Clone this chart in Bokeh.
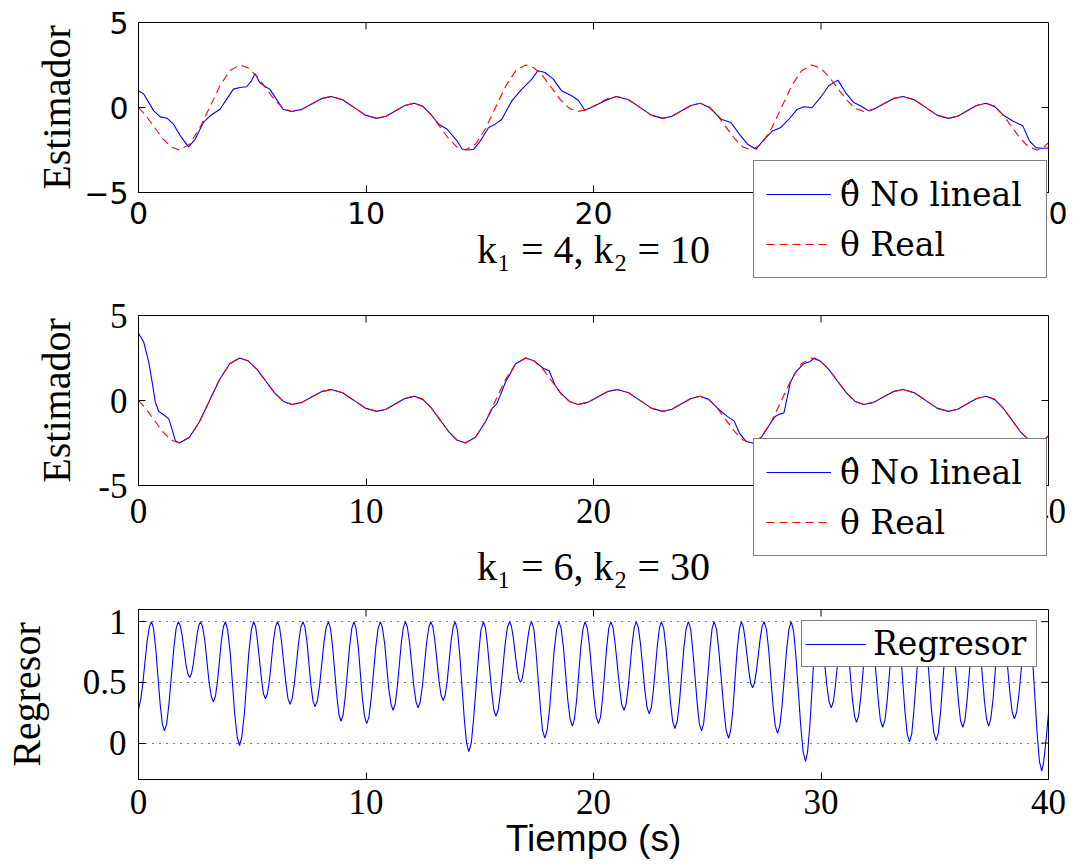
from bokeh.plotting import figure
from bokeh.models import Range1d, FixedTicker, Legend, LegendItem
from bokeh.layouts import column
from bokeh.embed import file_html
from bokeh.resources import INLINE

# ---------------- data ----------------
X_TICKS = [0, 10, 20, 30, 40]
X_TICK_LABELS = ["0", "10", "20", "30", "40"]
EST_TICKS = [-5, 0, 5]
EST_TICK_LABELS_1 = ["\u22125", "0", "5"]
EST_TICK_LABELS_2 = ["-5", "0", "5"]
REG_TICKS = [0, 0.5, 1]
REG_TICK_LABELS = ["0", "0.5", "1"]

LABEL_HAT = "\u03b8\u0302 No lineal"
LABEL_REAL = "\u03b8 Real"
LABEL_REG = "Regresor"
XLABEL_1 = "k\u2081 = 4, k\u2082 = 10"
XLABEL_2 = "k\u2081 = 6, k\u2082 = 30"
XLABEL_3 = "Tiempo (s)"
YLABEL_EST = "Estimador"
YLABEL_REG = "Regresor"

# real theta (same in both estimator panels)
T_REAL = [0, 0.30, 0.675, 1.05, 1.425, 1.80,
          2.24, 2.68, 3.125, 3.57, 4.01, 4.45,
          4.83, 5.22, 5.60, 5.98, 6.37, 6.75,
          7.18, 7.61, 8.04, 8.47,
          8.97, 9.47, 9.97, 10.47,
          10.88, 11.30, 11.71, 12.12,
          12.495, 12.87, 13.245, 13.62, 13.99, 14.37,
          14.81, 15.25, 15.69, 16.14, 16.58, 17.02,
          17.40, 17.79, 18.17, 18.55, 18.94, 19.32,
          19.75, 20.18, 20.61, 21.04,
          21.54, 22.04, 22.54, 23.04,
          23.45, 23.87, 24.28, 24.69,
          25.06, 25.44, 25.81, 26.19, 26.56, 26.93,
          27.38, 27.82, 28.26, 28.70, 29.14, 29.58,
          29.97, 30.35, 30.73, 31.12, 31.50, 31.88,
          32.31, 32.74, 33.17, 33.60,
          34.10, 34.60, 35.10, 35.60,
          36.01, 36.43, 36.84, 37.25,
          37.63, 38.00, 38.38, 38.75, 39.13, 39.50,
          39.75, 40.0]
V_REAL = [0.0, -0.44, -1.125, -1.81, -2.32, -2.5,
          -2.165, -1.25, 0.0, 1.25, 2.165, 2.5,
          2.32, 1.815, 1.13, 0.445, -0.056, -0.24,
          -0.11, 0.205, 0.52, 0.65,
          0.46, 0.005, -0.45, -0.64,
          -0.51, -0.195, 0.12, 0.25,
          0.066, -0.44, -1.125, -1.81, -2.32, -2.5,
          -2.165, -1.25, 0.0, 1.25, 2.165, 2.5,
          2.32, 1.815, 1.13, 0.445, -0.056, -0.24,
          -0.11, 0.205, 0.52, 0.65,
          0.46, 0.005, -0.45, -0.64,
          -0.51, -0.195, 0.12, 0.25,
          0.066, -0.44, -1.125, -1.81, -2.32, -2.5,
          -2.165, -1.25, 0.0, 1.25, 2.165, 2.5,
          2.32, 1.815, 1.13, 0.445, -0.056, -0.24,
          -0.11, 0.205, 0.52, 0.65,
          0.46, 0.005, -0.45, -0.64,
          -0.51, -0.195, 0.12, 0.25,
          0.066, -0.44, -1.125, -1.81, -2.32, -2.5,
          -2.39, -2.07]

# estimate, k1 = 4, k2 = 10
T_K4 = [0, 0.23, 0.45, 0.67, 0.96, 1.25, 1.54, 1.84, 2.2, 2.49,
        2.85, 3.15, 3.58, 3.88, 4.17, 4.46, 4.75, 4.97, 5.12, 5.33,
        5.55, 5.77, 6.06, 6.35, 6.72, 7.18, 7.61, 8.04, 8.47, 8.97,
        9.47, 9.97, 10.47, 10.88, 11.30, 11.71, 12.12, 12.50, 12.87, 13.2,
        13.57, 14.0, 14.23, 14.5, 14.73, 15.03, 15.39, 15.68, 15.97, 16.41,
        16.85, 17.29, 17.55, 17.87, 18.23, 18.6, 19.04, 19.33, 19.62, 20.06,
        20.35, 20.61, 21.01, 21.54, 22.04, 22.54, 23.04, 23.45, 23.87, 24.28,
        24.69, 25.1, 25.61, 26.04, 26.41, 26.77, 27.14, 27.5, 27.87, 28.23,
        28.59, 28.96, 29.25, 29.61, 29.98, 30.34, 30.74, 31.08, 31.44, 31.81,
        32.10, 32.40, 32.74, 33.17, 33.60, 34.10, 34.60, 35.10, 35.60, 36.01,
        36.43, 36.84, 37.25, 37.63, 38.0, 38.43, 38.87, 39.16, 39.45, 39.7,
        40.0]
V_K4 = [0.98, 0.79, 0.3, -0.2, -0.55, -0.63, -0.98, -1.67, -2.32, -1.87,
        -0.88, -0.49, -0.1, 0.49, 1.08, 1.18, 1.22, 1.57, 2.0, 1.47,
        1.25, 1.08, 0.49, -0.1, -0.24, -0.11, 0.205, 0.52, 0.65, 0.46,
        0.005, -0.45, -0.64, -0.51, -0.195, 0.12, 0.25, 0.07, -0.44, -0.98,
        -1.28, -1.96, -2.46, -2.5, -2.46, -1.96, -1.18, -0.98, -0.69, 0.39,
        1.08, 1.67, 2.16, 2.06, 1.67, 0.98, 0.69, 0.43, -0.16, 0.1,
        0.29, 0.45, 0.65, 0.46, 0.005, -0.45, -0.64, -0.51, -0.195, 0.12,
        0.25, 0.0, -0.69, -0.88, -1.57, -2.16, -2.46, -1.87, -1.38, -1.18,
        -0.69, -0.1, 0.04, 0.0, 0.59, 1.28, 1.61, 0.88, 0.29, 0.04,
        -0.2, -0.05, 0.205, 0.52, 0.65, 0.46, 0.005, -0.45, -0.64, -0.51,
        -0.195, 0.12, 0.25, 0.066, -0.44, -0.79, -1.08, -1.96, -2.36, -2.4,
        -2.38]

# estimate, k1 = 6, k2 = 30
T_K6 = [0, 0.23, 0.45, 0.6, 0.74, 0.89, 1.11, 1.33, 1.47, 1.62,
        1.80, 2.24, 2.68, 3.125, 3.57, 4.01, 4.45, 4.83, 5.22, 5.60,
        5.98, 6.37, 6.75, 7.18, 7.61, 8.04, 8.47, 8.97, 9.47, 9.97,
        10.47, 10.88, 11.30, 11.71, 12.12, 12.495, 12.87, 13.245, 13.62, 13.99,
        14.37, 14.81, 15.25, 15.55, 15.75, 16.14, 16.58, 17.02, 17.40, 17.79,
        18.05, 18.31, 18.55, 18.94, 19.32, 19.75, 20.18, 20.61, 21.04, 21.54,
        22.04, 22.54, 23.04, 23.45, 23.87, 24.28, 24.69, 25.06, 25.44, 25.89,
        26.18, 26.41, 26.7, 26.99, 27.38, 27.82, 28.0, 28.2, 28.37, 28.66,
        28.88, 29.24, 29.53, 29.7, 29.97, 30.35, 30.73, 31.12, 31.50, 31.88,
        32.31, 32.74, 33.17, 33.60, 34.10, 34.60, 35.10, 35.60, 36.01, 36.43,
        36.84, 37.25, 37.63, 38.00, 38.38, 38.75, 39.13, 39.50, 39.75, 40.0]
V_K6 = [3.95, 3.44, 2.26, 1.08, -0.1, -0.65, -0.84, -1.08, -1.67, -2.36,
        -2.5, -2.165, -1.25, 0.0, 1.25, 2.165, 2.5, 2.32, 1.815, 1.13,
        0.445, -0.056, -0.24, -0.11, 0.205, 0.52, 0.65, 0.46, 0.005, -0.45,
        -0.64, -0.51, -0.195, 0.12, 0.25, 0.066, -0.44, -1.125, -1.81, -2.32,
        -2.5, -2.165, -1.25, -0.45, -0.2, 1.1, 2.165, 2.5, 2.32, 1.9,
        1.75, 0.9, 0.445, -0.056, -0.24, -0.11, 0.205, 0.52, 0.65, 0.46,
        0.005, -0.45, -0.64, -0.51, -0.195, 0.12, 0.25, 0.066, -0.44, -0.95,
        -1.2, -1.9, -2.4, -2.5, -2.165, -1.25, -0.92, -0.8, -0.73, 1.08,
        1.67, 2.16, 2.3, 2.5, 2.32, 1.815, 1.13, 0.445, -0.056, -0.24,
        -0.11, 0.205, 0.52, 0.65, 0.46, 0.005, -0.45, -0.64, -0.51, -0.195,
        0.12, 0.25, 0.066, -0.44, -1.125, -1.81, -2.32, -2.5, -2.39, -2.07]

# regressor (one line per half wave)
T_REG = [0, 0.10, 0.19, 0.29, 0.38, 0.48, 0.57,
         0.665, 0.76, 0.95, 1.045, 1.14,
         1.24, 1.34, 1.55, 1.65, 1.75,
         1.83, 1.92, 2.08, 2.17, 2.25,
         2.33, 2.41, 2.57, 2.65, 2.73,
         2.82, 2.92, 3.10, 3.20, 3.29,
         3.38, 3.47, 3.64, 3.73, 3.82,
         3.92, 4.03, 4.23, 4.34, 4.44,
         4.54, 4.65, 4.85, 4.96, 5.06,
         5.15, 5.23, 5.41, 5.49, 5.58,
         5.67, 5.76, 5.93, 6.02, 6.11,
         6.20, 6.29, 6.48, 6.57, 6.66,
         6.755, 6.85, 7.04, 7.135, 7.23,
         7.32, 7.41, 7.58, 7.67, 7.76,
         7.86, 7.96, 8.15, 8.25, 8.35,
         8.44, 8.53, 8.72, 8.81, 8.90,
         8.995, 9.09, 9.28, 9.375, 9.47,
         9.56, 9.66, 9.84, 9.94, 10.03,
         10.13, 10.23, 10.43, 10.53, 10.63,
         10.72, 10.82, 11.00, 11.10, 11.19,
         11.28, 11.37, 11.55, 11.64, 11.73,
         11.82, 11.92, 12.10, 12.20, 12.29,
         12.38, 12.48, 12.66, 12.76, 12.85,
         12.94, 13.03, 13.21, 13.30, 13.39,
         13.48, 13.57, 13.74, 13.83, 13.92,
         14.02, 14.12, 14.32, 14.42, 14.52,
         14.63, 14.73, 14.95, 15.05, 15.16,
         15.25, 15.34, 15.53, 15.62, 15.71,
         15.81, 15.91, 16.11, 16.21, 16.31,
         16.39, 16.47, 16.63, 16.71, 16.79,
         16.87, 16.95, 17.12, 17.20, 17.28,
         17.38, 17.47, 17.67, 17.76, 17.86,
         17.96, 18.07, 18.27, 18.38, 18.48,
         18.58, 18.68, 18.87, 18.97, 19.07,
         19.16, 19.26, 19.44, 19.54, 19.63,
         19.73, 19.83, 20.02, 20.12, 20.22,
         20.31, 20.40, 20.58, 20.67, 20.76,
         20.86, 20.95, 21.15, 21.24, 21.34,
         21.43, 21.52, 21.70, 21.79, 21.88,
         21.975, 22.07, 22.26, 22.355, 22.45,
         22.54, 22.63, 22.81, 22.90, 22.99,
         23.09, 23.19, 23.38, 23.48, 23.58,
         23.68, 23.78, 23.97, 24.07, 24.17,
         24.27, 24.36, 24.56, 24.65, 24.75,
         24.84, 24.93, 25.12, 25.21, 25.30,
         25.41, 25.51, 25.73, 25.83, 25.94,
         26.03, 26.13, 26.31, 26.41, 26.50,
         26.58, 26.66, 26.83, 26.91, 26.99,
         27.075, 27.16, 27.33, 27.415, 27.50,
         27.60, 27.70, 27.89, 27.99, 28.09,
         28.19, 28.29, 28.49, 28.59, 28.69,
         28.795, 28.90, 29.11, 29.215, 29.32,
         29.41, 29.51, 29.69, 29.79, 29.88,
         29.975, 30.07, 30.26, 30.355, 30.45,
         30.54, 30.63, 30.82, 30.91, 31.00,
         31.09, 31.19, 31.37, 31.47, 31.56,
         31.655, 31.75, 31.94, 32.035, 32.13,
         32.23, 32.32, 32.52, 32.61, 32.71,
         32.81, 32.91, 33.10, 33.20, 33.30,
         33.40, 33.50, 33.69, 33.79, 33.89,
         33.99, 34.08, 34.28, 34.37, 34.47,
         34.57, 34.67, 34.86, 34.96, 35.06,
         35.16, 35.26, 35.45, 35.55, 35.65,
         35.75, 35.84, 36.04, 36.13, 36.23,
         36.325, 36.42, 36.61, 36.705, 36.80,
         36.895, 36.99, 37.18, 37.275, 37.37,
         37.46, 37.56, 37.74, 37.84, 37.93,
         38.025, 38.12, 38.31, 38.405, 38.50,
         38.60, 38.70, 38.90, 39.00, 39.10,
         39.20, 39.30, 39.50, 39.60, 39.70,
         39.78, 39.85, 39.93, 40.0]
V_REG = [0.277, 0.36, 0.49, 0.68, 0.84, 0.96, 1.0,
         0.94, 0.775, 0.325, 0.16, 0.10,
         0.16, 0.325, 0.775, 0.94, 1.0,
         0.969, 0.885, 0.655, 0.571, 0.54,
         0.571, 0.655, 0.885, 0.969, 1.0,
         0.956, 0.835, 0.505, 0.384, 0.34,
         0.384, 0.505, 0.835, 0.956, 1.0,
         0.932, 0.745, 0.235, 0.048, -0.02,
         0.048, 0.235, 0.745, 0.932, 1.0,
         0.957, 0.841, 0.524, 0.408, 0.365,
         0.408, 0.524, 0.841, 0.957, 1.0,
         0.954, 0.83, 0.49, 0.366, 0.32,
         0.366, 0.49, 0.83, 0.954, 1.0,
         0.953, 0.825, 0.475, 0.347, 0.30,
         0.347, 0.475, 0.825, 0.953, 1.0,
         0.945, 0.795, 0.385, 0.235, 0.18,
         0.235, 0.385, 0.795, 0.945, 1.0,
         0.944, 0.79, 0.37, 0.216, 0.16,
         0.216, 0.37, 0.79, 0.944, 1.0,
         0.951, 0.82, 0.45, 0.319, 0.27,
         0.319, 0.45, 0.82, 0.951, 1.0,
         0.952, 0.82, 0.47, 0.338, 0.29,
         0.338, 0.47, 0.82, 0.952, 1.0,
         0.956, 0.84, 0.51, 0.394, 0.35,
         0.394, 0.51, 0.84, 0.956, 1.0,
         0.928, 0.73, 0.20, 0.002, -0.07,
         0.002, 0.20, 0.73, 0.928, 1.0,
         0.948, 0.805, 0.415, 0.272, 0.22,
         0.272, 0.415, 0.805, 0.948, 1.0,
         0.966, 0.875, 0.625, 0.534, 0.50,
         0.534, 0.625, 0.875, 0.966, 1.0,
         0.936, 0.76, 0.28, 0.104, 0.04,
         0.104, 0.28, 0.76, 0.936, 1.0,
         0.942, 0.785, 0.355, 0.198, 0.14,
         0.198, 0.355, 0.785, 0.942, 1.0,
         0.944, 0.79, 0.37, 0.216, 0.16,
         0.216, 0.37, 0.79, 0.944, 1.0,
         0.951, 0.82, 0.45, 0.319, 0.27,
         0.319, 0.45, 0.82, 0.951, 1.0,
         0.949, 0.81, 0.43, 0.291, 0.24,
         0.291, 0.43, 0.81, 0.949, 1.0,
         0.941, 0.78, 0.34, 0.179, 0.12,
         0.179, 0.34, 0.78, 0.941, 1.0,
         0.94, 0.775, 0.325, 0.16, 0.10,
         0.16, 0.325, 0.775, 0.94, 1.0,
         0.936, 0.76, 0.28, 0.104, 0.04,
         0.104, 0.28, 0.76, 0.936, 1.0,
         0.963, 0.864, 0.59, 0.492, 0.455,
         0.492, 0.59, 0.864, 0.963, 1.0,
         0.938, 0.77, 0.31, 0.142, 0.08,
         0.142, 0.31, 0.77, 0.938, 1.0,
         0.923, 0.71, 0.14, -0.073, -0.15,
         -0.073, 0.14, 0.71, 0.923, 1.0,
         0.952, 0.82, 0.47, 0.338, 0.29,
         0.338, 0.47, 0.82, 0.952, 1.0,
         0.944, 0.79, 0.38, 0.226, 0.17,
         0.226, 0.38, 0.79, 0.944, 1.0,
         0.942, 0.78, 0.35, 0.188, 0.13,
         0.188, 0.35, 0.78, 0.942, 1.0,
         0.934, 0.75, 0.26, 0.076, 0.01,
         0.076, 0.26, 0.75, 0.934, 1.0,
         0.934, 0.755, 0.265, 0.086, 0.02,
         0.086, 0.265, 0.755, 0.934, 1.0,
         0.942, 0.78, 0.35, 0.188, 0.13,
         0.188, 0.35, 0.78, 0.942, 1.0,
         0.942, 0.785, 0.355, 0.198, 0.14,
         0.198, 0.355, 0.785, 0.942, 1.0,
         0.946, 0.80, 0.40, 0.254, 0.20,
         0.254, 0.40, 0.80, 0.946, 1.0,
         0.918, 0.69, 0.08, -0.148, -0.23,
         -0.17, -0.05, 0.10, 0.25]

assert len(T_REAL) == len(V_REAL)
assert len(T_K4) == len(V_K4)
assert len(T_K6) == len(V_K6)
assert len(T_REG) == len(V_REG)

# ---------------- styling ----------------
W = 1073
SERIF = "Liberation Serif"
LEG_SERIF = "DejaVu Serif"
SANS = "DejaVu Sans"
BLUE = "#0000ff"
RED = "#ff0000"
TICK_PX = 7
HAT_STYLE = dict(line_color=BLUE, line_width=1.1)
REAL_STYLE = dict(line_color=RED, line_width=1.1, line_dash="8 5")


def make_fig(height, top, bottom, yr, margin_top=0):
    p = figure(width=W, height=height, x_range=Range1d(0, 40), y_range=Range1d(*yr),
               output_backend="svg", toolbar_location=None,
               min_border_left=133, min_border_right=25,
               min_border_top=top, min_border_bottom=bottom,
               background_fill_color="white", border_fill_color="white",
               outline_line_color="black", outline_line_width=1,
               margin=(margin_top, 0, 0, 0))
    p.xgrid.visible = False
    p.ygrid.visible = False
    return p


def style_axis(ax, ticks, labels, font, size, standoff):
    ax.ticker = FixedTicker(ticks=ticks)
    ax.major_label_overrides = {t: l for t, l in zip(ticks, labels)}
    ax.major_tick_in = TICK_PX
    ax.major_tick_out = 0
    ax.minor_tick_line_color = None
    ax.major_tick_line_color = "black"
    ax.axis_line_color = "black"
    ax.major_label_text_font = font
    ax.major_label_text_font_size = size
    ax.major_label_text_color = "black"
    ax.major_label_standoff = standoff


def style_label(ax, text, font, size, standoff):
    ax.axis_label = text
    ax.axis_label_text_font = font
    ax.axis_label_text_font_size = size
    ax.axis_label_text_font_style = "normal"
    ax.axis_label_text_color = "black"
    ax.axis_label_standoff = standoff


def mirror_ticks(p, xticks, yticks, yr, frame_h, frame_w=915):
    """inward ticks on the top and right edges of the box"""
    ylen = (yr[1] - yr[0]) * TICK_PX / frame_h
    xlen = 40.0 * TICK_PX / frame_w
    p.segment(x0=xticks, y0=[yr[1]] * len(xticks), x1=xticks,
              y1=[yr[1] - ylen] * len(xticks), line_color="black", line_width=1)
    p.segment(x0=[40.0] * len(yticks), y0=yticks, x1=[40.0 - xlen] * len(yticks),
              y1=yticks, line_color="black", line_width=1)


def make_legend(items, loc, glyph_w, label_w, pad, size, lh, spacing, standoff):
    return Legend(items=items, location=loc, orientation="vertical",
                  label_text_font=LEG_SERIF, label_text_font_size=size,
                  label_text_color="black",
                  glyph_width=glyph_w, glyph_height=lh, label_height=lh,
                  label_width=label_w, label_standoff=standoff,
                  padding=pad, spacing=spacing, margin=0,
                  border_line_color="black", border_line_width=1,
                  background_fill_color="white", background_fill_alpha=1.0)


def legend_overlay(height, margin_top, loc):
    """transparent sheet laid over the panels, holding the estimator legend"""
    o = figure(width=W, height=height, x_range=Range1d(0, 1), y_range=Range1d(0, 1),
               output_backend="svg", toolbar_location=None,
               x_axis_location=None, y_axis_location=None,
               min_border=0, min_border_left=0, min_border_right=0,
               min_border_top=0, min_border_bottom=0,
               background_fill_alpha=0.0, border_fill_alpha=0.0,
               outline_line_color=None, margin=(margin_top, 0, 0, 0))
    o.xgrid.visible = False
    o.ygrid.visible = False
    # legend-only renderers: their points sit outside the visible range
    rh = o.line(x=[-3, -2], y=[-3, -2], **HAT_STYLE)
    rr = o.line(x=[-3, -2], y=[-3, -2], **REAL_STYLE)
    o.add_layout(make_legend([LegendItem(label=LABEL_HAT, renderers=[rh]),
                              LegendItem(label=LABEL_REAL, renderers=[rr])],
                             loc, 65, 194, 12, "33px", 42, 8, 9))
    return o


# ---- panel 1 ----
p1 = make_fig(310, 22, 118, (-5, 5))
p1.line(T_K4, V_K4, **HAT_STYLE)
p1.line(T_REAL, V_REAL, **REAL_STYLE)
style_axis(p1.below[0], X_TICKS, X_TICK_LABELS, SANS, "30px", 9)
style_axis(p1.left[0], EST_TICKS, EST_TICK_LABELS_1, SANS, "30px", 10)
style_label(p1.below[0], XLABEL_1, SERIF, "40px", 0)
style_label(p1.left[0], YLABEL_EST, SERIF, "40px", 2)
mirror_ticks(p1, X_TICKS[1:-1], EST_TICKS[1:-1], (-5, 5), 170)
o1 = legend_overlay(140, -160, (615, 12))

# ---- panel 2 ----
p2 = make_fig(323, 25, 128, (-5, 5))
p2.line(T_K6, V_K6, **HAT_STYLE)
p2.line(T_REAL, V_REAL, **REAL_STYLE)
style_axis(p2.below[0], X_TICKS, X_TICK_LABELS, SERIF, "35px", 13)
style_axis(p2.left[0], EST_TICKS, EST_TICK_LABELS_2, SERIF, "35px", 11)
style_label(p2.below[0], XLABEL_2, SERIF, "40px", 18)
style_label(p2.left[0], YLABEL_EST, SERIF, "40px", 16)
mirror_ticks(p2, X_TICKS[1:-1], EST_TICKS[1:-1], (-5, 5), 170)
o2 = legend_overlay(163, -183, (615, 37))

# ---- panel 3 ----
p3 = make_fig(272, 16, 86, (-0.3, 1.1))
p3.ygrid.visible = True
p3.ygrid.ticker = FixedTicker(ticks=REG_TICKS)
p3.ygrid.grid_line_color = "black"
p3.ygrid.grid_line_dash = "1 6"
p3.ygrid.grid_line_width = 1
r3 = p3.line(T_REG, V_REG, line_color=BLUE, line_width=1.1)
style_axis(p3.below[0], X_TICKS, X_TICK_LABELS, SERIF, "35px", 10)
style_axis(p3.left[0], REG_TICKS, REG_TICK_LABELS, SERIF, "35px", 12)
style_label(p3.below[0], XLABEL_3, "Liberation Sans", "37px", 1)
style_label(p3.left[0], YLABEL_REG, SERIF, "40px", 31)
mirror_ticks(p3, X_TICKS[1:-1], REG_TICKS, (-0.3, 1.1), 170)
p3.add_layout(make_legend([LegendItem(label=LABEL_REG, renderers=[r3])],
                          (663, 112), 61, 160, 3, "33px", 38, 0, 7))

layout = column(p1, o1, p2, o2, p3, spacing=0)
open("out.html", "w").write(file_html(layout, INLINE))
